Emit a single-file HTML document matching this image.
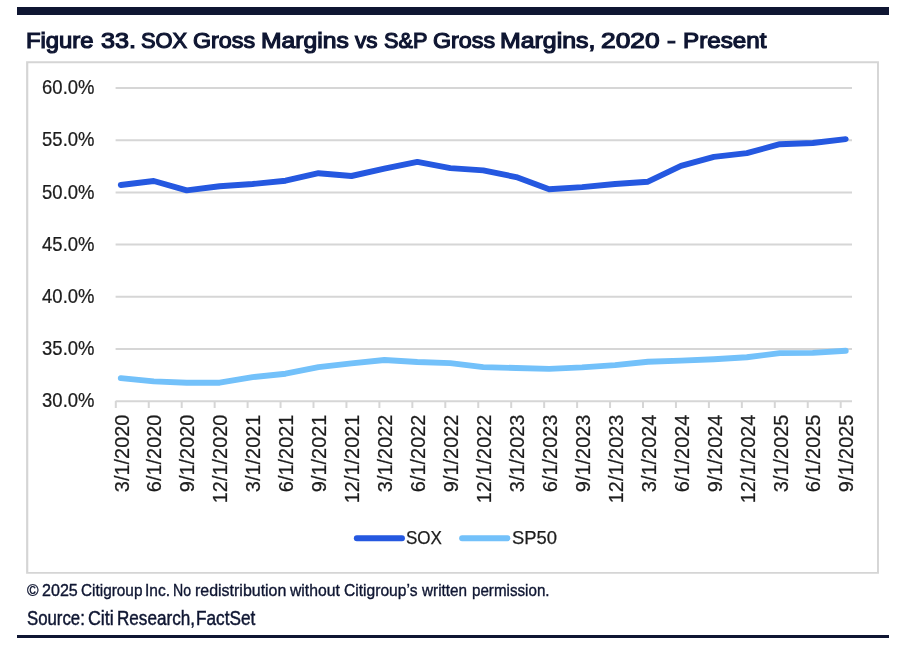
<!DOCTYPE html>
<html lang="en">
<head>
<meta charset="utf-8">
<title>Figure 33. SOX Gross Margins vs S&amp;P Gross Margins, 2020 - Present</title>
<style>
html,body{margin:0;padding:0;background:#fff;}
body{width:910px;height:650px;position:relative;overflow:hidden;font-family:"Liberation Sans",sans-serif;color:#0f1632;}
.topbar{position:absolute;left:16.6px;top:7px;width:872.4px;height:7.6px;background:#0f1632;}
.botbar{position:absolute;left:16.6px;top:635px;width:872.4px;height:2.6px;background:#0f1632;}
.wl{position:absolute;left:0;margin:0;white-space:nowrap;width:910px;font-weight:normal;}
.wl span{position:absolute;top:0;transform-origin:0 0;white-space:pre;}
.title{top:27.62px;font-size:22.3px;line-height:26px;height:26px;font-weight:normal;-webkit-text-stroke:1.2px #0f1632;}
.copy{top:578.77px;font-size:17.4px;line-height:22px;height:22px;-webkit-text-stroke:0.38px #0f1632;}
.src{top:605.64px;font-size:19.5px;line-height:24px;height:24px;-webkit-text-stroke:0.45px #0f1632;}
.chart{position:absolute;left:0;top:0;}
.chart text{font-family:"Liberation Sans",sans-serif;fill:#1c1c1c;stroke:#1c1c1c;stroke-width:0.25px;}
.yl text{font-size:20.4px;}
.xl text{font-size:19.95px;}
.lg text{font-size:18.8px;}
</style>
</head>
<body>
<div class="topbar"></div>
<h1 class="wl title"><span style="left:26.16px;transform:scaleX(1.0691)">Figure </span><span style="left:100.72px;transform:scaleX(1.1282)">33. </span><span style="left:141.26px;transform:scaleX(0.9788)">SOX </span><span style="left:193.48px;transform:scaleX(1.0426)">Gross </span><span style="left:260.62px;transform:scaleX(1.1061)">Margins </span><span style="left:354.76px;transform:scaleX(1.0110)">vs </span><span style="left:383.76px;transform:scaleX(0.9714)">S&amp;P </span><span style="left:432.98px;transform:scaleX(1.0426)">Gross </span><span style="left:500.11px;transform:scaleX(1.1148)">Margins, </span><span style="left:600.91px;transform:scaleX(1.1795)">2020 </span><span style="left:666.90px;transform:scaleX(1.1930)">- </span><span style="left:683.14px;transform:scaleX(1.0855)">Present </span></h1>
<svg class="chart" width="910" height="650" viewBox="0 0 910 650">
<path d="M26.1 61.3H878.95V573.85H26.1Z M28.3 63.2V571.95H877.05V63.2Z" fill="#d5d5d5" fill-rule="evenodd"/>
<g stroke="#d6d6d6" stroke-width="2" fill="none">
<line x1="115.6" y1="88.05" x2="852" y2="88.05"/>
<line x1="115.6" y1="140.23" x2="852" y2="140.23"/>
<line x1="115.6" y1="192.41" x2="852" y2="192.41"/>
<line x1="115.6" y1="244.59" x2="852" y2="244.59"/>
<line x1="115.6" y1="296.77" x2="852" y2="296.77"/>
<line x1="115.6" y1="348.95" x2="852" y2="348.95"/>
<line x1="115.6" y1="401.13" x2="852" y2="401.13"/>
<line x1="115.80" y1="401" x2="115.80" y2="408"/>
<line x1="148.75" y1="401" x2="148.75" y2="408"/>
<line x1="181.70" y1="401" x2="181.70" y2="408"/>
<line x1="214.65" y1="401" x2="214.65" y2="408"/>
<line x1="247.60" y1="401" x2="247.60" y2="408"/>
<line x1="280.55" y1="401" x2="280.55" y2="408"/>
<line x1="313.50" y1="401" x2="313.50" y2="408"/>
<line x1="346.45" y1="401" x2="346.45" y2="408"/>
<line x1="379.40" y1="401" x2="379.40" y2="408"/>
<line x1="412.35" y1="401" x2="412.35" y2="408"/>
<line x1="445.30" y1="401" x2="445.30" y2="408"/>
<line x1="478.25" y1="401" x2="478.25" y2="408"/>
<line x1="511.20" y1="401" x2="511.20" y2="408"/>
<line x1="544.15" y1="401" x2="544.15" y2="408"/>
<line x1="577.10" y1="401" x2="577.10" y2="408"/>
<line x1="610.05" y1="401" x2="610.05" y2="408"/>
<line x1="643.00" y1="401" x2="643.00" y2="408"/>
<line x1="675.95" y1="401" x2="675.95" y2="408"/>
<line x1="708.90" y1="401" x2="708.90" y2="408"/>
<line x1="741.85" y1="401" x2="741.85" y2="408"/>
<line x1="774.80" y1="401" x2="774.80" y2="408"/>
<line x1="807.75" y1="401" x2="807.75" y2="408"/>
<line x1="840.70" y1="401" x2="840.70" y2="408"/>
</g>
<polyline points="120.80,185.0 153.75,181.0 186.70,190.4 219.65,186.2 252.60,184.0 285.55,180.7 318.50,173.2 351.45,176.0 384.40,168.6 417.35,161.9 450.30,168.1 483.25,170.4 516.20,177.1 549.15,189.3 582.10,187.1 615.05,184.0 648.00,181.7 680.95,165.9 713.90,156.9 746.85,153.1 779.80,144.2 812.75,143.0 845.70,139.1" fill="none" stroke="#2558e0" stroke-width="5.9" stroke-linecap="round" stroke-linejoin="round"/>
<polyline points="120.80,378.1 153.75,381.4 186.70,382.7 219.65,382.7 252.60,377.1 285.55,373.7 318.50,367.1 351.45,363.4 384.40,360.0 417.35,362.0 450.30,363.1 483.25,367.1 516.20,368.0 549.15,368.9 582.10,367.4 615.05,365.1 648.00,361.7 680.95,360.6 713.90,359.3 746.85,357.3 779.80,353.1 812.75,352.9 845.70,350.8" fill="none" stroke="#73c1fa" stroke-width="5.9" stroke-linecap="round" stroke-linejoin="round"/>
<g class="yl">
<text transform="translate(42.1,94.1) scale(0.906,1)">60.0%</text>
<text transform="translate(42.1,146.3) scale(0.906,1)">55.0%</text>
<text transform="translate(42.1,198.5) scale(0.906,1)">50.0%</text>
<text transform="translate(42.1,250.7) scale(0.906,1)">45.0%</text>
<text transform="translate(42.1,302.9) scale(0.906,1)">40.0%</text>
<text transform="translate(42.1,355.1) scale(0.906,1)">35.0%</text>
<text transform="translate(42.1,407.2) scale(0.906,1)">30.0%</text>
</g>
<g class="xl">
<text transform="translate(128.50,414.6) rotate(-90) scale(1,0.975)" text-anchor="end">3/1/2020</text>
<text transform="translate(161.45,414.6) rotate(-90) scale(1,0.975)" text-anchor="end">6/1/2020</text>
<text transform="translate(194.40,414.6) rotate(-90) scale(1,0.975)" text-anchor="end">9/1/2020</text>
<text transform="translate(227.35,414.6) rotate(-90) scale(1,0.975)" text-anchor="end">12/1/2020</text>
<text transform="translate(260.30,414.6) rotate(-90) scale(1,0.975)" text-anchor="end">3/1/2021</text>
<text transform="translate(293.25,414.6) rotate(-90) scale(1,0.975)" text-anchor="end">6/1/2021</text>
<text transform="translate(326.20,414.6) rotate(-90) scale(1,0.975)" text-anchor="end">9/1/2021</text>
<text transform="translate(359.15,414.6) rotate(-90) scale(1,0.975)" text-anchor="end">12/1/2021</text>
<text transform="translate(392.10,414.6) rotate(-90) scale(1,0.975)" text-anchor="end">3/1/2022</text>
<text transform="translate(425.05,414.6) rotate(-90) scale(1,0.975)" text-anchor="end">6/1/2022</text>
<text transform="translate(458.00,414.6) rotate(-90) scale(1,0.975)" text-anchor="end">9/1/2022</text>
<text transform="translate(490.95,414.6) rotate(-90) scale(1,0.975)" text-anchor="end">12/1/2022</text>
<text transform="translate(523.90,414.6) rotate(-90) scale(1,0.975)" text-anchor="end">3/1/2023</text>
<text transform="translate(556.85,414.6) rotate(-90) scale(1,0.975)" text-anchor="end">6/1/2023</text>
<text transform="translate(589.80,414.6) rotate(-90) scale(1,0.975)" text-anchor="end">9/1/2023</text>
<text transform="translate(622.75,414.6) rotate(-90) scale(1,0.975)" text-anchor="end">12/1/2023</text>
<text transform="translate(655.70,414.6) rotate(-90) scale(1,0.975)" text-anchor="end">3/1/2024</text>
<text transform="translate(688.65,414.6) rotate(-90) scale(1,0.975)" text-anchor="end">6/1/2024</text>
<text transform="translate(721.60,414.6) rotate(-90) scale(1,0.975)" text-anchor="end">9/1/2024</text>
<text transform="translate(754.55,414.6) rotate(-90) scale(1,0.975)" text-anchor="end">12/1/2024</text>
<text transform="translate(787.50,414.6) rotate(-90) scale(1,0.975)" text-anchor="end">3/1/2025</text>
<text transform="translate(820.45,414.6) rotate(-90) scale(1,0.975)" text-anchor="end">6/1/2025</text>
<text transform="translate(853.40,414.6) rotate(-90) scale(1,0.975)" text-anchor="end">9/1/2025</text>
</g>
<line x1="356.8" y1="538.2" x2="402.0" y2="538.2" stroke="#2558e0" stroke-width="5.9" stroke-linecap="round"/>
<line x1="462.1" y1="538.2" x2="507.4" y2="538.2" stroke="#73c1fa" stroke-width="5.9" stroke-linecap="round"/>
<g class="lg"><text x="406" y="544.3" textLength="36" lengthAdjust="spacingAndGlyphs">SOX</text><text x="512" y="544.3" textLength="45" lengthAdjust="spacingAndGlyphs">SP50</text></g>
</svg>
<p class="wl copy"><span style="left:27.26px;transform:scaleX(0.8997)">© </span><span style="left:41.57px;transform:scaleX(0.9257)">2025 </span><span style="left:80.86px;transform:scaleX(0.8824)">Citigroup </span><span style="left:145.17px;transform:scaleX(0.8902)">Inc. </span><span style="left:173.28px;transform:scaleX(0.8129)">No </span><span style="left:194.85px;transform:scaleX(0.9177)">redistribution </span><span style="left:290.00px;transform:scaleX(0.9046)">without </span><span style="left:344.11px;transform:scaleX(0.8972)">Citigroup’s </span><span style="left:421.50px;transform:scaleX(0.8801)">written </span><span style="left:471.91px;transform:scaleX(0.8721)">permission. </span></p>
<p class="wl src"><span style="left:26.64px;transform:scaleX(0.8605)">Source: </span><span style="left:87.59px;transform:scaleX(0.9129)">Citi </span><span style="left:117.19px;transform:scaleX(0.8772)">Research, </span><span style="left:196.18px;transform:scaleX(0.8817)">FactSet </span></p>
<div class="botbar"></div>
</body>
</html>
